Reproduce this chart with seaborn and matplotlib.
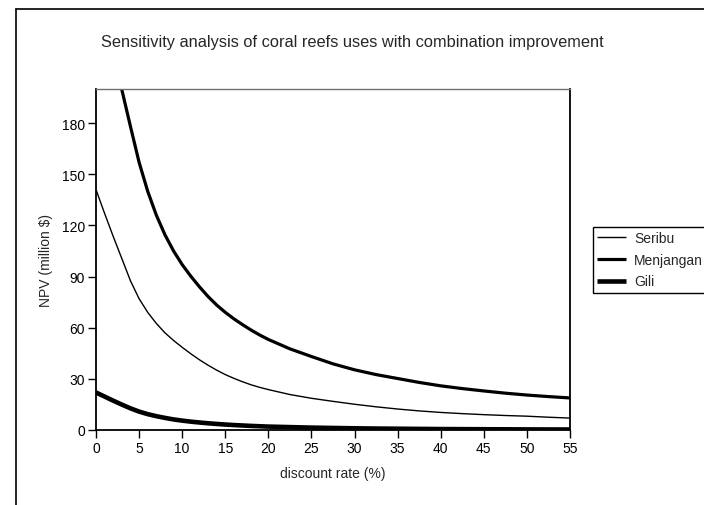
import matplotlib
matplotlib.use("Agg")
import matplotlib.pyplot as plt
from matplotlib.lines import Line2D
import seaborn as sns
import pandas as pd

# discount rate (%)
rate = [0, 1, 2, 3, 4, 5, 6, 7, 8, 9, 10, 11, 12, 13, 14, 15, 16, 17, 18, 19, 20,
        22.5, 25, 27.5, 30, 32.5, 35, 37.5, 40, 42.5, 45, 47.5, 50, 52.5, 55]

seribu = [141, 127, 113.5, 100.5, 87.5, 77, 69, 62.5, 57, 52.5, 48.5, 44.7, 41.2, 38, 35.1,
          32.5, 30.3, 28.3, 26.5, 25, 23.7,
          20.8, 18.6, 16.8, 15.1, 13.6, 12.3, 11.2, 10.3, 9.6, 9.0, 8.5, 8.1, 7.5, 7.0]
menjangan = [263, 242, 221, 199.5, 178, 157, 140, 126, 114.5, 105, 97, 90.2, 84, 78.3, 73.3,
             69, 65.2, 61.8, 58.6, 55.7, 53.1,
             47.6, 43.1, 38.8, 35.3, 32.5, 30.2, 27.9, 25.9, 24.3, 22.9, 21.6, 20.5, 19.6, 18.8]
gili = [22, 19.6, 17.2, 14.9, 12.7, 10.8, 9.3, 8.1, 7.1, 6.2, 5.5, 4.9, 4.4, 3.95, 3.55,
        3.2, 2.9, 2.65, 2.4, 2.2, 2.0,
        1.7, 1.4, 1.2, 1.0, 0.85, 0.75, 0.65, 0.55, 0.5, 0.45, 0.4, 0.35, 0.32, 0.3]

series_names = ["Seribu", "Menjangan", "Gili"]
series_values = [seribu, menjangan, gili]
series_widths = [1.0, 2.3, 3.3]

x_ticks = list(range(0, 56, 5))
y_ticks = list(range(0, 181, 30))

title = "Sensitivity analysis of coral reefs uses with combination improvement"
x_label = "discount rate (%)"
y_label = "NPV (million $)"

sns.set_style("white")
plt.rcParams["font.family"] = ["Liberation Sans", "DejaVu Sans"]

W, H = 704, 506
fig = plt.figure(figsize=(W / 100, H / 100), dpi=100)
ax = fig.add_axes([96 / W, 1 - 431 / H, (570 - 96) / W, (431 - 90) / H])

for name, vals, lw in zip(series_names, series_values, series_widths):
    df = pd.DataFrame({"rate": rate, "npv": vals})
    sns.lineplot(data=df, x="rate", y="npv", ax=ax, color="black",
                 linewidth=lw, label=name, solid_joinstyle="round",
                 solid_capstyle="butt")

ax.set_xlim(0, 55)
ax.set_ylim(0, 200)
ax.set_xticks(x_ticks)
ax.set_yticks(y_ticks)
ax.tick_params(axis="both", direction="out", length=5.5, width=1, color="black",
               labelsize=10, bottom=True, left=True, pad=2.5, labelcolor="black")
ax.set_xlabel(x_label, fontsize=10, labelpad=8)
ax.set_ylabel(y_label, fontsize=10, labelpad=6)

for side in ["left", "bottom", "right"]:
    ax.spines[side].set_color("black")
    ax.spines[side].set_linewidth(1.3)
ax.spines["top"].set_color("#707070")
ax.spines["top"].set_linewidth(1.0)

leg = ax.legend(loc="upper left", bbox_to_anchor=(593 / W, 1 - 228 / H),
                bbox_transform=fig.transFigure, fontsize=10, frameon=True,
                fancybox=False, framealpha=1, edgecolor="black",
                handlelength=2.1, handletextpad=0.55, labelspacing=0.55,
                borderpad=0.3, borderaxespad=0)
leg.get_frame().set_linewidth(1.0)

fig.text(352 / W, 1 - 42 / H, title, ha="center", va="center", fontsize=11.8)

# outer chart-area border (cropped at right and bottom)
fig.add_artist(Line2D([15.5 / W, 15.5 / W], [1 - 10 / H, -0.05],
                      transform=fig.transFigure, color="black", lw=1.2))
fig.add_artist(Line2D([15.5 / W, 1.05], [1 - 10 / H, 1 - 10 / H],
                      transform=fig.transFigure, color="black", lw=1.2))

fig.savefig("out.png", dpi=100)
